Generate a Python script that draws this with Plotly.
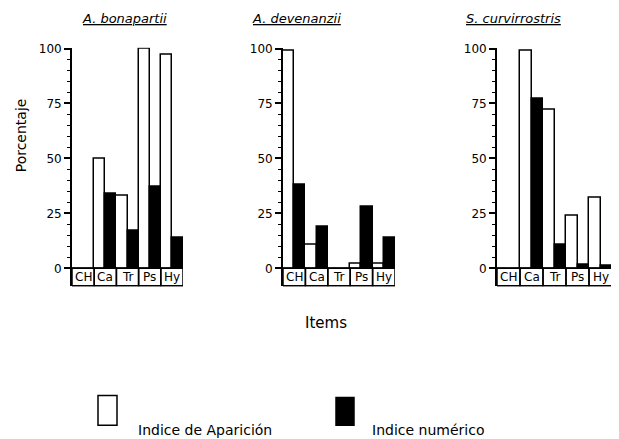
import plotly.graph_objects as go

categories = ["CH", "Ca", "Tr", "Ps", "Hy"]
species = ["A. bonapartii", "A. devenanzii", "S. curvirrostris"]
aparicion = {
    "A. bonapartii": [0, 50, 33, 100, 97],
    "A. devenanzii": [99, 11, 0, 2, 2],
    "S. curvirrostris": [0, 99, 72, 24, 32],
}
numerico = {
    "A. bonapartii": [0, 34, 17, 37, 14],
    "A. devenanzii": [38, 19, 0, 28, 14],
    "S. curvirrostris": [0, 77, 11, 1.5, 1.2],
}
tick_vals = [0, 25, 50, 75, 100]
legend_labels = ["Indice de Aparición", "Indice numérico"]

# the page body has an 8px default margin; compensate so the picture lands at 619x439
OFF = 8
W, H = 619 - OFF, 439 - OFF
FONT = "DejaVu Sans"

def px(x):
    return (x - OFF) / W

def py(y):
    return 1 - (y - OFF) / H

domains_px = [(72, 183), (283, 395), (497, 612)]
title_cx = [124, 296, 513]
ymin, ymax = -8.1, 100.4

fig = go.Figure()
layout = dict(
    width=W, height=H, margin=dict(l=0, r=0, t=0, b=0),
    plot_bgcolor="white", paper_bgcolor="white",
    barmode="group", bargap=0, bargroupgap=0, showlegend=False,
    font=dict(family=FONT, color="black"),
)
shapes = []
annotations = []
xpos = list(range(len(categories)))

def ann(text, x, y, size, **kw):
    d = dict(text=text, xref="paper", yref="paper", x=px(x), y=py(y), showarrow=False,
             xanchor="center", yanchor="middle", font=dict(size=size, family=FONT, color="black"))
    d.update(kw)
    return d

for k, sp in enumerate(species):
    xa = "x" if k == 0 else f"x{k+1}"
    ya = "y" if k == 0 else f"y{k+1}"
    fig.add_trace(go.Bar(x=xpos, y=aparicion[sp], xaxis=xa, yaxis=ya,
                         marker=dict(color="white", line=dict(color="black", width=1.5)),
                         offsetgroup="a"))
    fig.add_trace(go.Bar(x=xpos, y=numerico[sp], xaxis=xa, yaxis=ya,
                         marker=dict(color="black", line=dict(color="black", width=1.5)),
                         offsetgroup="n"))
    d0, d1 = domains_px[k]
    xkey = "xaxis" if k == 0 else f"xaxis{k+1}"
    ykey = "yaxis" if k == 0 else f"yaxis{k+1}"
    layout[xkey] = dict(domain=[px(d0), px(d1)], range=[-0.5, len(categories) - 0.5],
                        showticklabels=False, showgrid=False, zeroline=False,
                        showline=False, ticks="", anchor=ya)
    layout[ykey] = dict(domain=[py(284), py(266 - 100 * 2.23 - 0.9)], range=[ymin, ymax],
                        tickvals=tick_vals, ticks="outside", ticklen=6, tickwidth=1.5,
                        tickcolor="black", showline=True, linewidth=1.8, linecolor="black",
                        showgrid=False, zeroline=False, anchor=xa,
                        tickfont=dict(size=12, family=FONT, color="black"),
                        minor=dict(tickvals=[v for v in range(5, 100, 5) if v % 25], ticklen=3,
                                   tickwidth=1.2, tickcolor="black", ticks="outside"))
    for i, c in enumerate(categories):
        shapes.append(dict(type="rect", xref=xa, yref=ya, x0=i - 0.5, x1=i + 0.5,
                           y0=ymin, y1=0, line=dict(color="black", width=1.5)))
        annotations.append(dict(text=c, xref=xa, yref=ya, x=i, y=ymin / 2, showarrow=False,
                                xanchor="center", yanchor="middle",
                                font=dict(size=12, family=FONT, color="black")))
    shapes.append(dict(type="line", xref=xa, yref=ya, x0=-0.5, x1=len(categories) - 0.5,
                       y0=ymin, y1=ymin, line=dict(color="black", width=2.5)))
    annotations.append(ann(f"<i><u>{sp}</u></i>", title_cx[k], 13, 13))

annotations.append(ann("Porcentaje", 21, 131, 14, textangle=-90))
annotations.append(ann("Items", 326, 321, 15))

# legend
shapes.append(dict(type="rect", xref="paper", yref="paper", x0=px(98), x1=px(117),
                   y0=py(425), y1=py(395), line=dict(color="black", width=1.5), fillcolor="white"))
shapes.append(dict(type="rect", xref="paper", yref="paper", x0=px(336), x1=px(354),
                   y0=py(425), y1=py(397), line=dict(color="black", width=1.5), fillcolor="black"))
annotations.append(ann(legend_labels[0], 136, 430, 14, xanchor="left"))
annotations.append(ann(legend_labels[1], 370, 430, 14, xanchor="left"))

layout["shapes"] = shapes
layout["annotations"] = annotations
fig.update_layout(**layout)
fig.write_html("out.html")
